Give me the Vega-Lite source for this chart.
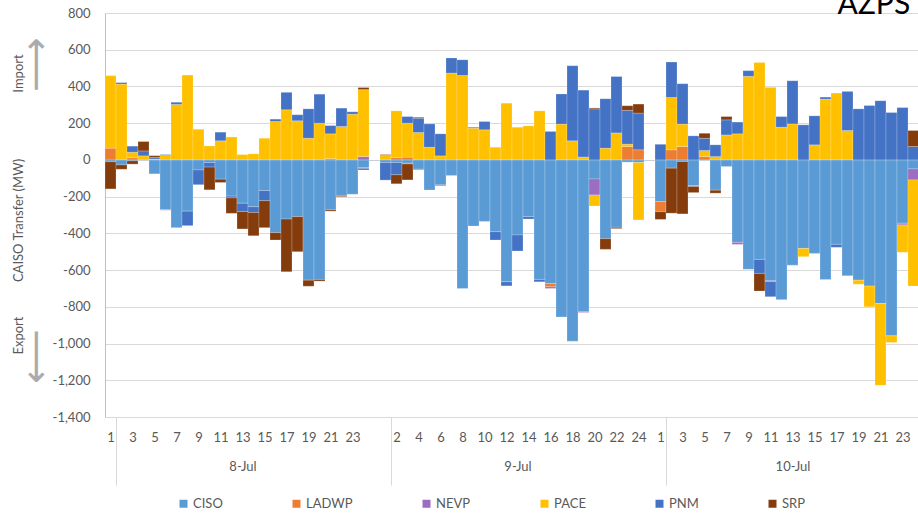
{
  "$schema": "https://vega.github.io/schema/vega-lite/v6.json",
  "width": 813,
  "height": 404,
  "autosize": {"type": "none"},
  "padding": {"left": 105, "top": 13, "right": 0, "bottom": 99},
  "config": {
    "view": {"stroke": null},
    "font": "Lato",
    "axis": {"labelColor": "#595959", "titleColor": "#595959", "labelFontSize": 13, "titleFontSize": 13, "titleFontWeight": "normal", "labelFont": "Lato", "titleFont": "Lato"},
    "legend": {"labelFont": "Lato"}
  },
  "datasets": {
    "flows": [
      {"s":0,"r":"CISO","v":-10},{"s":0,"r":"LADWP","v":64},{"s":0,"r":"PACE","v":395},{"s":0,"r":"SRP","v":-148},
      {"s":1,"r":"CISO","v":-27},{"s":1,"r":"PACE","v":413},{"s":1,"r":"PNM","v":8},{"s":1,"r":"SRP","v":-24},
      {"s":2,"r":"CISO","v":-5},{"s":2,"r":"LADWP","v":12},{"s":2,"r":"PACE","v":30},{"s":2,"r":"PNM","v":33},{"s":2,"r":"SRP","v":-18},
      {"s":3,"r":"PACE","v":22},{"s":3,"r":"PNM","v":27},{"s":3,"r":"SRP","v":51},
      {"s":4,"r":"CISO","v":-76},{"s":4,"r":"PACE","v":5},{"s":4,"r":"PNM","v":8},{"s":4,"r":"SRP","v":10},
      {"s":5,"r":"CISO","v":-270},{"s":5,"r":"NEVP","v":-4},{"s":5,"r":"PACE","v":24},{"s":5,"r":"PNM","v":5},
      {"s":6,"r":"CISO","v":-369},{"s":6,"r":"PACE","v":302},{"s":6,"r":"PNM","v":12},
      {"s":7,"r":"CISO","v":-279},{"s":7,"r":"PACE","v":462},{"s":7,"r":"PNM","v":-79},
      {"s":8,"r":"CISO","v":-55},{"s":8,"r":"PACE","v":167},{"s":8,"r":"PNM","v":-80},
      {"s":9,"r":"CISO","v":-14},{"s":9,"r":"PACE","v":76},{"s":9,"r":"PNM","v":-25},{"s":9,"r":"SRP","v":-124},
      {"s":10,"r":"CISO","v":-105},{"s":10,"r":"PACE","v":104},{"s":10,"r":"PNM","v":47},{"s":10,"r":"SRP","v":-18},
      {"s":11,"r":"CISO","v":-197},{"s":11,"r":"PACE","v":125},{"s":11,"r":"PNM","v":-10},{"s":11,"r":"SRP","v":-84},
      {"s":12,"r":"CISO","v":-236},{"s":12,"r":"PACE","v":29},{"s":12,"r":"PNM","v":-45},{"s":12,"r":"SRP","v":-95},
      {"s":13,"r":"CISO","v":-255},{"s":13,"r":"PACE","v":33},{"s":13,"r":"PNM","v":-31},{"s":13,"r":"SRP","v":-127},
      {"s":14,"r":"CISO","v":-167},{"s":14,"r":"PACE","v":118},{"s":14,"r":"PNM","v":-55},{"s":14,"r":"SRP","v":-147},
      {"s":15,"r":"CISO","v":-396},{"s":15,"r":"PACE","v":209},{"s":15,"r":"PNM","v":13},{"s":15,"r":"SRP","v":-40},
      {"s":16,"r":"CISO","v":-322},{"s":16,"r":"PACE","v":273},{"s":16,"r":"PNM","v":95},{"s":16,"r":"SRP","v":-287},
      {"s":17,"r":"CISO","v":-309},{"s":17,"r":"PACE","v":213},{"s":17,"r":"PNM","v":33},{"s":17,"r":"SRP","v":-191},
      {"s":18,"r":"CISO","v":-655},{"s":18,"r":"PACE","v":118},{"s":18,"r":"PNM","v":160},{"s":18,"r":"SRP","v":-33},
      {"s":19,"r":"CISO","v":-651},{"s":19,"r":"PACE","v":200},{"s":19,"r":"PNM","v":158},{"s":19,"r":"SRP","v":-9},
      {"s":20,"r":"CISO","v":-272},{"s":20,"r":"LADWP","v":7},{"s":20,"r":"PACE","v":135},{"s":20,"r":"PNM","v":45},{"s":20,"r":"SRP","v":-7},
      {"s":21,"r":"CISO","v":-195},{"s":21,"r":"PACE","v":182},{"s":21,"r":"PNM","v":100},{"s":21,"r":"SRP","v":-5},
      {"s":22,"r":"CISO","v":-187},{"s":22,"r":"PACE","v":249},{"s":22,"r":"PNM","v":13},
      {"s":23,"r":"CISO","v":-43},{"s":23,"r":"LADWP","v":-3},{"s":23,"r":"NEVP","v":18},{"s":23,"r":"PACE","v":365},{"s":23,"r":"PNM","v":-9},{"s":23,"r":"SRP","v":11},
      {"s":25,"r":"CISO","v":-14},{"s":25,"r":"PACE","v":25},{"s":25,"r":"PNM","v":-96},{"s":25,"r":"SRP","v":4},
      {"s":26,"r":"CISO","v":-14},{"s":26,"r":"LADWP","v":12},{"s":26,"r":"PACE","v":255},{"s":26,"r":"PNM","v":-67},{"s":26,"r":"SRP","v":-49},
      {"s":27,"r":"CISO","v":-18},{"s":27,"r":"LADWP","v":15},{"s":27,"r":"NEVP","v":-4},{"s":27,"r":"PACE","v":185},{"s":27,"r":"PNM","v":36},{"s":27,"r":"SRP","v":-87},
      {"s":28,"r":"CISO","v":-51},{"s":28,"r":"NEVP","v":-4},{"s":28,"r":"PACE","v":149},{"s":28,"r":"PNM","v":78},{"s":28,"r":"SRP","v":5},
      {"s":29,"r":"CISO","v":-164},{"s":29,"r":"PACE","v":69},{"s":29,"r":"PNM","v":127},
      {"s":30,"r":"CISO","v":-136},{"s":30,"r":"NEVP","v":-5},{"s":30,"r":"PACE","v":22},{"s":30,"r":"PNM","v":120},
      {"s":31,"r":"CISO","v":-85},{"s":31,"r":"PACE","v":473},{"s":31,"r":"PNM","v":82},
      {"s":32,"r":"CISO","v":-700},{"s":32,"r":"PACE","v":460},{"s":32,"r":"PNM","v":85},
      {"s":33,"r":"CISO","v":-360},{"s":33,"r":"PACE","v":173},{"s":33,"r":"PNM","v":5},
      {"s":34,"r":"CISO","v":-335},{"s":34,"r":"PACE","v":164},{"s":34,"r":"PNM","v":45},
      {"s":35,"r":"CISO","v":-391},{"s":35,"r":"PACE","v":69},{"s":35,"r":"PNM","v":-45},
      {"s":36,"r":"CISO","v":-664},{"s":36,"r":"PACE","v":309},{"s":36,"r":"PNM","v":-22},
      {"s":37,"r":"CISO","v":-409},{"s":37,"r":"PACE","v":178},{"s":37,"r":"PNM","v":-87},
      {"s":38,"r":"CISO","v":-309},{"s":38,"r":"PACE","v":185},{"s":38,"r":"PNM","v":-13},
      {"s":39,"r":"CISO","v":-651},{"s":39,"r":"PACE","v":267},{"s":39,"r":"PNM","v":-13},
      {"s":40,"r":"CISO","v":-673},{"s":40,"r":"LADWP","v":-18},{"s":40,"r":"NEVP","v":-9},{"s":40,"r":"PNM","v":155},
      {"s":41,"r":"CISO","v":-855},{"s":41,"r":"PACE","v":195},{"s":41,"r":"PNM","v":164},
      {"s":42,"r":"CISO","v":-987},{"s":42,"r":"PACE","v":104},{"s":42,"r":"PNM","v":409},
      {"s":43,"r":"CISO","v":-827},{"s":43,"r":"NEVP","v":-4},{"s":43,"r":"PACE","v":16},{"s":43,"r":"PNM","v":364},
      {"s":44,"r":"CISO","v":-104},{"s":44,"r":"NEVP","v":-87},{"s":44,"r":"PACE","v":-60},{"s":44,"r":"PNM","v":278},{"s":44,"r":"SRP","v":5},
      {"s":45,"r":"CISO","v":-429},{"s":45,"r":"PACE","v":64},{"s":45,"r":"PNM","v":269},{"s":45,"r":"SRP","v":-58},
      {"s":46,"r":"CISO","v":-367},{"s":46,"r":"PACE","v":147},{"s":46,"r":"PNM","v":307},{"s":46,"r":"SRP","v":-7},
      {"s":47,"r":"CISO","v":-12},{"s":47,"r":"LADWP","v":73},{"s":47,"r":"PACE","v":13},{"s":47,"r":"PNM","v":184},{"s":47,"r":"SRP","v":25},
      {"s":48,"r":"CISO","v":-14},{"s":48,"r":"LADWP","v":55},{"s":48,"r":"PACE","v":-313},{"s":48,"r":"PNM","v":200},{"s":48,"r":"SRP","v":49},
      {"s":50,"r":"CISO","v":-227},{"s":50,"r":"LADWP","v":-55},{"s":50,"r":"PNM","v":85},{"s":50,"r":"SRP","v":-42},
      {"s":51,"r":"CISO","v":-45},{"s":51,"r":"LADWP","v":55},{"s":51,"r":"PACE","v":285},{"s":51,"r":"PNM","v":193},{"s":51,"r":"SRP","v":-245},
      {"s":52,"r":"CISO","v":-9},{"s":52,"r":"LADWP","v":73},{"s":52,"r":"PACE","v":122},{"s":52,"r":"PNM","v":220},{"s":52,"r":"SRP","v":-285},
      {"s":53,"r":"CISO","v":-140},{"s":53,"r":"NEVP","v":-5},{"s":53,"r":"PNM","v":131},{"s":53,"r":"SRP","v":-33},
      {"s":54,"r":"LADWP","v":18},{"s":54,"r":"PACE","v":33},{"s":54,"r":"PNM","v":67},{"s":54,"r":"SRP","v":27},
      {"s":55,"r":"CISO","v":-165},{"s":55,"r":"PACE","v":18},{"s":55,"r":"PNM","v":64},{"s":55,"r":"SRP","v":-16},
      {"s":56,"r":"CISO","v":-36},{"s":56,"r":"PACE","v":136},{"s":56,"r":"PNM","v":82},{"s":56,"r":"SRP","v":18},
      {"s":57,"r":"CISO","v":-449},{"s":57,"r":"NEVP","v":-11},{"s":57,"r":"PACE","v":142},{"s":57,"r":"PNM","v":64},
      {"s":58,"r":"CISO","v":-596},{"s":58,"r":"PACE","v":455},{"s":58,"r":"PNM","v":31},
      {"s":59,"r":"CISO","v":-542},{"s":59,"r":"PACE","v":531},{"s":59,"r":"PNM","v":-76},{"s":59,"r":"SRP","v":-96},
      {"s":60,"r":"CISO","v":-658},{"s":60,"r":"NEVP","v":-5},{"s":60,"r":"PACE","v":395},{"s":60,"r":"PNM","v":-82},
      {"s":61,"r":"CISO","v":-760},{"s":61,"r":"NEVP","v":-3},{"s":61,"r":"PACE","v":178},{"s":61,"r":"PNM","v":58},
      {"s":62,"r":"CISO","v":-573},{"s":62,"r":"PACE","v":196},{"s":62,"r":"PNM","v":235},
      {"s":63,"r":"CISO","v":-482},{"s":63,"r":"PACE","v":-45},{"s":63,"r":"PNM","v":191},
      {"s":64,"r":"CISO","v":-509},{"s":64,"r":"PACE","v":82},{"s":64,"r":"PNM","v":158},
      {"s":65,"r":"CISO","v":-651},{"s":65,"r":"PACE","v":331},{"s":65,"r":"PNM","v":11},
      {"s":66,"r":"CISO","v":-460},{"s":66,"r":"PACE","v":364},{"s":66,"r":"PNM","v":-16},
      {"s":67,"r":"CISO","v":-631},{"s":67,"r":"PACE","v":160},{"s":67,"r":"PNM","v":213},
      {"s":68,"r":"CISO","v":-655},{"s":68,"r":"PACE","v":-22},{"s":68,"r":"PNM","v":278},
      {"s":69,"r":"CISO","v":-687},{"s":69,"r":"PACE","v":-113},{"s":69,"r":"PNM","v":296},
      {"s":70,"r":"CISO","v":-782},{"s":70,"r":"PACE","v":-445},{"s":70,"r":"PNM","v":322},
      {"s":71,"r":"CISO","v":-958},{"s":71,"r":"PACE","v":-36},{"s":71,"r":"PNM","v":258},
      {"s":72,"r":"CISO","v":-345},{"s":72,"r":"NEVP","v":-9},{"s":72,"r":"PACE","v":-149},{"s":72,"r":"PNM","v":285},
      {"s":73,"r":"CISO","v":-49},{"s":73,"r":"NEVP","v":-60},{"s":73,"r":"PACE","v":-578},{"s":73,"r":"PNM","v":73},{"s":73,"r":"SRP","v":87}
    ]
  },
  "layer": [
    {
      "data": {"name": "flows"},
      "mark": {"type": "bar", "stroke": "#ffffff", "strokeWidth": 0.3, "strokeOpacity": 0.7},
      "encoding": {
        "x": {
          "field": "s", "type": "ordinal",
          "scale": {"domain": [0,1,2,3,4,5,6,7,8,9,10,11,12,13,14,15,16,17,18,19,20,21,22,23,24,25,26,27,28,29,30,31,32,33,34,35,36,37,38,39,40,41,42,43,44,45,46,47,48,49,50,51,52,53,54,55,56,57,58,59,60,61,62,63,64,65,66,67,68,69,70,71,72,73,74], "range": [0, 825], "paddingInner": 0, "paddingOuter": 0},
          "axis": {
            "orient": "bottom", "title": null, "grid": false,
            "domain": true, "domainColor": "#D9D9D9",
            "ticks": true, "tickBand": "extent", "tickSize": 68,
            "tickColor": {"condition": {"test": "datum.value % 25 == 0", "value": "#D9D9D9"}, "value": "rgba(0,0,0,0)"},
            "labelPadding": -54, "labelAngle": 0, "labelOverlap": false, "labelBound": false, "labelFlush": false,
            "labelLineHeight": 29, "labelFontSize": 13,
            "labelExpr": "datum.value % 25 == 12 ? [ (datum.value % 2 == 0 ? '' + (datum.value % 25 + 1) : ' '), (datum.value == 12 ? '8-Jul' : (datum.value == 37 ? '9-Jul' : '10-Jul')) ] : ((datum.value % 2 == 0 && datum.value % 25 < 24) ? '' + (datum.value % 25 + 1) : '')"
          }
        },
        "y": {
          "field": "v", "type": "quantitative", "stack": "zero",
          "scale": {"domain": [-1400, 800], "nice": false},
          "axis": {
            "orient": "left",
            "values": [-1400,-1200,-1000,-800,-600,-400,-200,0,200,400,600,800],
            "grid": true,
            "gridColor": {"condition": {"test": "datum.value === 0", "value": "#C5D0DB"}, "value": "#D9D9D9"},
            "domain": true, "domainColor": "#BFBFBF", "ticks": false,
            "labelPadding": 15,
            "labelExpr": "replace(format(datum.value, ','), '\u2212', '-')",
            "title": "CAISO Transfer (MW)", "titleX": -87, "titleY": 207, "titleAngle": -90, "titleAlign": "center", "titleBaseline": "middle"
          }
        },
        "order": {"field": "r", "type": "ordinal", "sort": "ascending"},
        "color": {
          "field": "r", "type": "nominal",
          "scale": {"domain": ["CISO","LADWP","NEVP","PACE","PNM","SRP"], "range": ["#5B9BD5","#ED7D31","#9C6DC0","#FFC000","#4472C4","#843C0C"]},
          "legend": {"orient": "none", "legendX": 72, "legendY": 484, "direction": "horizontal", "title": null, "symbolType": "square", "symbolSize": 64, "symbolStrokeWidth": 0, "labelFontSize": 13, "labelColor": "#595959", "columnPadding": 67, "labelOffset": 3, "padding": 0}
        }
      }
    },
    {
      "data": {"values": [{"label": "AZPS"}]},
      "mark": {"type": "text", "align": "left", "baseline": "alphabetic", "fontSize": 30, "font": "Lato", "color": "#000000", "dx": 1, "dy": 1},
      "encoding": {
        "x": {"datum": 66, "type": "ordinal"},
        "y": {"datum": 800, "type": "quantitative", "scale": {"domain": [-1400, 800], "nice": false}, "axis": null},
        "text": {"field": "label"}
      }
    },
    {
      "data": {"values": [{}]},
      "mark": {"type": "rule", "opacity": 0},
      "encoding": {"y": {"datum": 0, "type": "quantitative", "scale": {"domain": [0, 1]},
        "axis": {"orient": "left", "title": "Import", "titleX": -87, "titleY": 60, "titleAngle": -90, "titleAlign": "center", "titleBaseline": "middle", "labels": false, "ticks": false, "domain": false, "grid": false}}}
    },
    {
      "data": {"values": [{}]},
      "mark": {"type": "rule", "opacity": 0},
      "encoding": {"y": {"datum": 0, "type": "quantitative", "scale": {"domain": [0, 1]},
        "axis": {"orient": "left", "title": "Export", "titleX": -87, "titleY": 322, "titleAngle": -90, "titleAlign": "center", "titleBaseline": "middle", "labels": false, "ticks": false, "domain": false, "grid": false}}}
    },
    {
      "data": {"values": [{}]},
      "mark": {"type": "rule", "opacity": 0},
      "encoding": {"y": {"datum": 0, "type": "quantitative", "scale": {"domain": [0, 1]},
        "axis": {"orient": "left", "title": "⟶", "titleFont": "DejaVu Sans", "titleFontSize": 38, "titleColor": "#ABABAB", "titleX": -69, "titleY": 51, "titleAngle": -90, "titleAlign": "center", "titleBaseline": "middle", "labels": false, "ticks": false, "domain": false, "grid": false}}}
    },
    {
      "data": {"values": [{}]},
      "mark": {"type": "rule", "opacity": 0},
      "encoding": {"y": {"datum": 0, "type": "quantitative", "scale": {"domain": [0, 1]},
        "axis": {"orient": "left", "title": "⟵", "titleFont": "DejaVu Sans", "titleFontSize": 38, "titleColor": "#ABABAB", "titleX": -69, "titleY": 343, "titleAngle": -90, "titleAlign": "center", "titleBaseline": "middle", "labels": false, "ticks": false, "domain": false, "grid": false}}}
    }
  ],
  "resolve": {"scale": {"y": "independent"}, "axis": {"y": "independent"}}
}
